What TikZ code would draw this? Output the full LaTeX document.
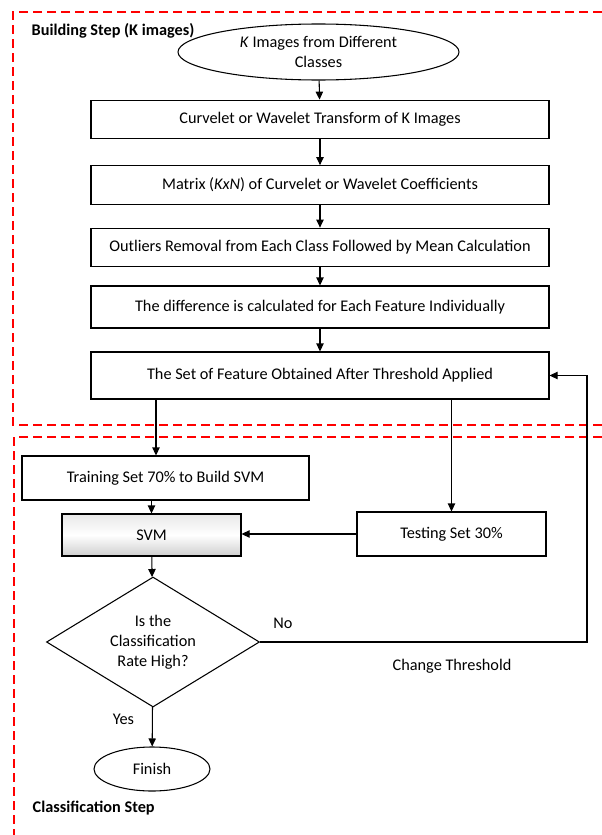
\documentclass[tikz,border=0pt]{standalone}
\usepackage{fontspec}
\setmainfont{Carlito}
\usetikzlibrary{shapes.geometric,arrows.meta}

\begin{document}
\begin{tikzpicture}[x=0.75pt,y=-0.75pt,
    every node/.style={font=\fontsize{12.2pt}{15pt}\selectfont},
    stage/.style={draw,line width=0.8pt,minimum width=343.5pt,minimum height=29pt},
    term/.style={draw,ellipse,line width=0.8pt,inner sep=0pt},
    zone/.style={red,line width=1.5pt,dash pattern=on 7pt off 3.5pt},
    arr/.style={line width=0.8pt,-{Triangle[length=6pt,width=5.5pt]}}]
  \useasboundingbox (0,0) rectangle (602,835);
  % the two dashed zones
  \draw[zone] (602,12) -- (13,12) -- (13,425) -- (602,425);
  \draw[zone] (602,437) -- (14,437) -- (14,835);
  \node[anchor=west,font=\fontsize{12.2pt}{15pt}\selectfont\bfseries] (build) at (27,31) {Building Step (K images)};
  \node[anchor=west,font=\fontsize{12.2pt}{15pt}\selectfont\bfseries] (classify) at (28,808) {Classification Step};
  % building step
  \node[term,minimum width=210.75pt,minimum height=42pt,align=center] (start) at (318.5,52)
    {\textit{K} Images from Different\\Classes};
  \node[stage] (trans) at (320,119.5) {Curvelet or Wavelet Transform of K Images};
  \node[stage] (matrix) at (320,185) {Matrix (\textit{KxN}) of Curvelet or Wavelet Coefficients};
  \node[stage] (outl) at (320,247.5) {Outliers Removal from Each Class Followed by Mean Calculation};
  \node[stage,minimum height=31.5pt] (diff) at (320,307) {The difference is calculated for Each Feature Individually};
  \node[stage,minimum height=35.25pt] (feat) at (320,375.5) {The Set of Feature Obtained After Threshold Applied};
  \draw[arr] (start) -- (trans);
  \draw[arr] (trans) -- (matrix);
  \draw[arr] (matrix) -- (outl);
  \draw[arr] (outl) -- (diff);
  \draw[arr] (diff) -- (feat);
  % classification step
  \node[stage,minimum width=215.25pt,minimum height=33pt] (train) at (165.5,478) {Training Set 70\% to Build SVM};
  \node[draw,line width=0.8pt,minimum width=134.25pt,minimum height=31.5pt,
        top color=black!9,bottom color=black!19,middle color=white] (svm) at (151.5,535) {SVM};
  \node[stage,minimum width=141.75pt,minimum height=33pt] (test) at (451.5,534) {Testing Set 30\%};
  \node[draw,diamond,line width=0.8pt,aspect=1.64,inner sep=0pt,minimum width=159.75pt,
        minimum height=97.5pt,align=center] (rate) at (153,642) {Is the\\Classification\\Rate High?};
  \node[term,minimum width=87pt,minimum height=33pt] (fin) at (152,769) {Finish};
  \coordinate (split) at (156,0);
  \coordinate (loop) at (587,0);
  \draw[arr] (split |- feat.south) -- (split |- train.north);
  \draw[arr] (feat.south -| test.north) -- (test.north);
  \draw[arr] (train.south -| svm.north) -- (svm.north);
  \draw[arr] (test.west) -- (test.west -| svm.east);
  \draw[arr] (svm) -- (rate);
  \draw[arr] (rate) -- (fin) node[pos=0.3,left=10pt] (yes) {Yes};
  \draw[arr] (rate.east) -- (rate.east -| loop) |- (feat.east);
  \node (no) at (283,623) {No};
  \node (chg) at (452,666) {Change Threshold};
\end{tikzpicture}
\end{document}
